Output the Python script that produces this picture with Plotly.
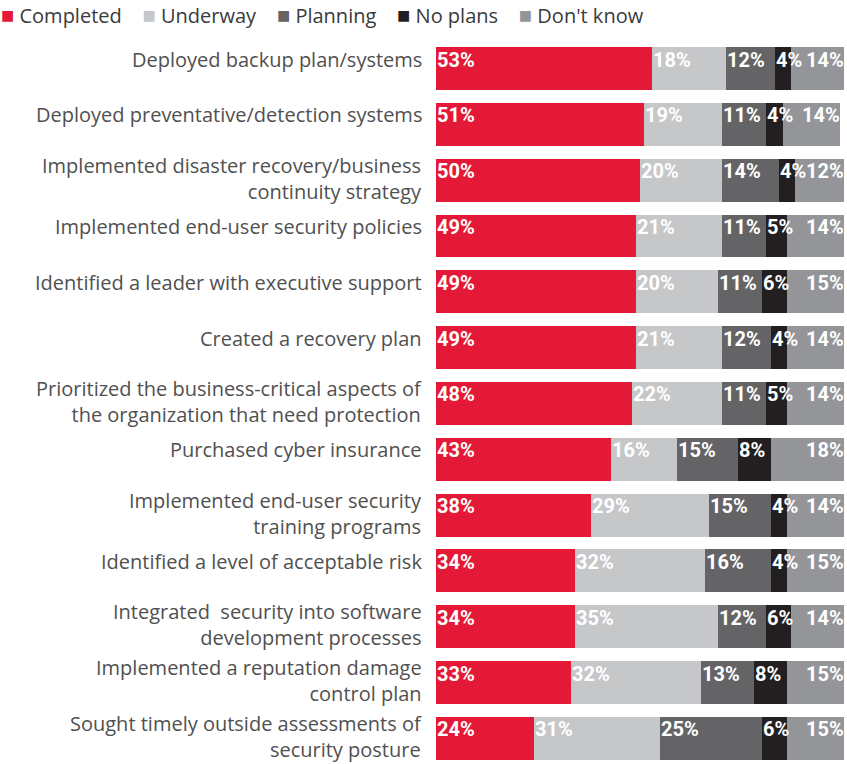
import plotly.graph_objects as go

categories = [
    "Deployed backup plan/systems",
    "Deployed preventative/detection systems",
    "Implemented disaster recovery/business<br>continuity strategy",
    "Implemented end-user security policies",
    "Identified a leader with executive support",
    "Created a recovery plan",
    "Prioritized the business-critical aspects of<br>the organization that need protection",
    "Purchased cyber insurance",
    "Implemented end-user security<br>training programs",
    "Identified a level of acceptable risk",
    "Integrated  security into software<br>development processes",
    "Implemented a reputation damage<br>control plan",
    "Sought timely outside assessments of<br>security posture",
]

series_names = ["Completed", "Underway", "Planning", "No plans", "Don't know"]
completed = [53, 51, 50, 49, 49, 49, 48, 43, 38, 34, 34, 33, 24]
underway = [18, 19, 20, 21, 20, 21, 22, 16, 29, 32, 35, 32, 31]
planning = [12, 11, 14, 11, 11, 12, 11, 15, 15, 16, 12, 13, 25]
no_plans = [4, 4, 4, 5, 6, 4, 5, 8, 4, 4, 6, 8, 6]
dont_know = [14, 14, 12, 14, 15, 14, 14, 18, 14, 15, 14, 15, 15]

series_values = [completed, underway, planning, no_plans, dont_know]
colors = ["#E31937", "#C6C7C9", "#646466", "#231F20", "#939598"]

fig = go.Figure()
for name, vals, col in zip(series_names, series_values, colors):
    fig.add_trace(go.Bar(
        y=categories, x=vals, name=name, orientation="h",
        marker=dict(color=col, line=dict(width=0)),
        hoverinfo="x+name", showlegend=False,
    ))

annotations = []

# value labels: left-aligned at each segment start, last one right-aligned at bar end
label_font = dict(family="Roboto, sans-serif", size=20, color="white")
for i, cat in enumerate(categories):
    start = 0
    for k, vals in enumerate(series_values):
        v = vals[i]
        last = k == len(series_values) - 1
        annotations.append(dict(
            x=min(start + v, 100) if last else start, y=cat,
            xref="x", yref="y", text=f"<b>{v}%</b>",
            showarrow=False, xanchor="right" if last else "left",
            yanchor="middle", xshift=2 if last else -1, yshift=9,
            font=label_font,
        ))
        start += v

# category labels: one-line labels sit at the bar top, two-line labels are centred
for cat in categories:
    two_lines = "<br>" in cat
    annotations.append(dict(
        x=0, y=cat, xref="paper", yref="y", text=cat, align="right",
        showarrow=False, xanchor="right",
        yanchor="middle" if two_lines else "top",
        xshift=-12, yshift=2 if two_lines else 25,
        font=dict(family="Open Sans, sans-serif", size=20, color="#505050"),
    ))

# legend row across the top
legend_items = [
    f"<span style='color:{c};font-size:22px'>■</span> {n}"
    for n, c in zip(series_names, colors)
]
annotations.append(dict(
    x=0, y=1, xref="paper", yref="paper", xanchor="left", yanchor="bottom",
    xshift=-437, yshift=10, showarrow=False, align="left",
    text="    ".join(legend_items),
    font=dict(family="Open Sans, sans-serif", size=20, color="#3a3a3a"),
))

fig.update_layout(
    width=847, height=764,
    barmode="stack", bargap=0.23,
    margin=dict(l=436, r=3, t=41, b=0, autoexpand=False),
    paper_bgcolor="white", plot_bgcolor="white",
    font=dict(family="Open Sans, sans-serif", color="#3d3d3d"),
    showlegend=False,
    xaxis=dict(range=[0, 100], visible=False, fixedrange=True),
    yaxis=dict(
        type="category", range=[12.457, -0.4925],
        showgrid=False, zeroline=False, showline=False, ticks="",
        showticklabels=False, automargin=False, fixedrange=True,
    ),
    annotations=annotations,
)

fig.write_html("out.html")
